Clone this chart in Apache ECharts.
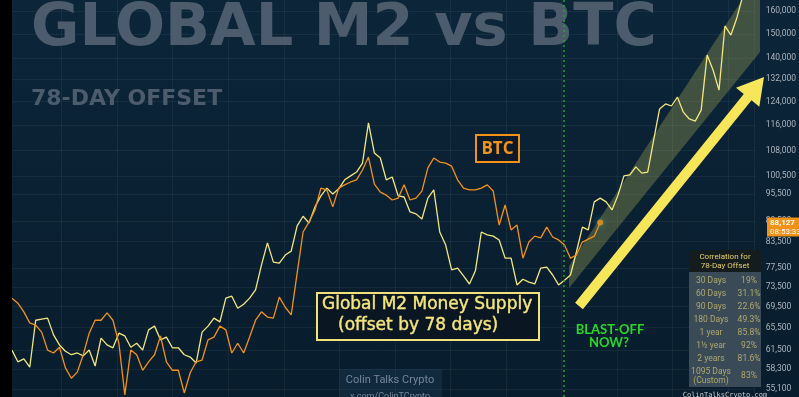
<!DOCTYPE html>
<html>
<head>
<meta charset="utf-8">
<title>Global M2 vs BTC</title>
<script src="https://cdn.jsdelivr.net/npm/echarts@6/dist/echarts.min.js"></script>
<style>
html,body{margin:0;padding:0;background:#0a2134;}
#chart{width:799px;height:397px;}
</style>
</head>
<body>
<div id="chart"></div>
<script>
// right axis price ticks (log scale)
var priceTicks = [160000,150000,140000,132000,124000,116000,108000,100500,95500,88500,83500,77500,73500,69500,65500,61500,58300,55100];

// Global M2 money supply, offset by 78 days (BTC-scaled), one value per step
var m2 = [61500,59500,60000,58600,66900,67100,67300,64200,62400,61300,
    60700,61000,60500,61500,58800,63600,62400,61900,64500,64000,
    62000,62700,61500,65100,65800,63300,63800,61900,61900,60700,
    60300,59300,64700,65800,67300,66600,71200,71600,69200,70000,
    71200,72900,78200,83200,78800,78600,80400,81300,87300,89700,
    88000,92100,95000,97100,95500,96900,99400,100500,101600,104200,
    116700,107200,105700,99400,100200,95000,94700,90800,90300,89000,
    94400,96600,85800,82700,77100,77500,75800,74100,76900,85800,
    85100,84800,83900,79700,79700,73900,75100,74500,74100,77500,
    77700,76000,73900,74900,76000,81100,87000,86300,93400,94400,
    93400,91300,95200,100500,100800,103100,101300,101600,111200,121400,
    123100,122400,125500,120300,118000,117300,121000,141300,135500,128000,
    153400,149500,156900,167000];

// BTC price
var btc = [71200,70200,68500,66400,66000,64700,61500,61000,62000,58500,
    56800,57800,60700,64500,66900,66900,68300,66900,62700,54200,
    61500,60700,58100,59500,60700,64000,59500,58100,58100,54500,
    57700,59500,59800,63300,63800,65800,65100,61000,62700,61000,
    63800,66900,68500,67500,67300,71400,69400,67900,76400,85800,
    88300,91300,97100,96600,92100,97100,98000,98800,99400,102200,
    106000,98200,96000,95200,93900,94400,98000,93900,94400,96300,
    102800,105700,104500,104200,103300,99400,97100,96600,96600,97100,
    98000,96300,87500,92600,86300,87500,79700,83400,84800,84400,
    87000,84600,83900,82700,79700,80400,83400,84100,84800,88127];

// correlation table
var corrPeriods = ['30 Days','60 Days','90 Days','180 Days','1 year','1½ year','2 years','1095 Days\n(Custom)'];
var corrValues = ['19%','31.1%','22.6%','49.3%','85.8%','92%','81.6%','83%'];

var nowIndex = 92.8;      // today (green dotted line)
var btcTime = '08:53:33';

function fmt(v){
    return String(Math.round(v)).replace(/\B(?=(\d{3})+(?!\d))/g, ',');
}

var chart = echarts.init(document.getElementById('chart'));
var gridColor = 'rgba(255,255,255,0.05)';
var yellow = '#f3e77e';
var orange = '#f39217';

var option = {
    animation: false,
    backgroundColor: {
        type: 'linear', x: 0, y: 0, x2: 0, y2: 1,
        colorStops: [{offset: 0, color: '#0c2539'}, {offset: 1, color: '#081d2d'}]
    },
    grid: {left: 6, right: 37, top: 0, bottom: 0},
    xAxis: {
        type: 'value', min: -1, max: 125, interval: 9.35,
        axisLine: {show: false}, axisTick: {show: false}, axisLabel: {show: false},
        splitLine: {lineStyle: {color: gridColor}}
    },
    yAxis: {
        type: 'log', position: 'right', min: 53880, max: 165040,
        axisLine: {show: false},
        axisTick: {show: false, customValues: priceTicks},
        axisLabel: {
            customValues: priceTicks, formatter: fmt,
            color: '#aab4be', fontSize: 8.5, fontFamily: '"Liberation Sans Narrow", "Roboto"', margin: 11
        },
        splitLine: {show: true, lineStyle: {color: gridColor}}
    },
    series: [
        {
            name: 'Global M2', type: 'line', showSymbol: false, z: 3,
            data: m2.map(function (v, i) { return [i, v]; }),
            lineStyle: {color: yellow, width: 1.3},
            markLine: {
                silent: true, symbol: 'none', label: {show: false},
                lineStyle: {color: '#22a52c', type: [2, 3], width: 1.5},
                data: [{xAxis: nowIndex}]
            }
        },
        {
            name: 'BTC', type: 'line', showSymbol: false, z: 4,
            data: btc.map(function (v, i) { return [i, v]; }),
            lineStyle: {color: orange, width: 1.3}
        },
        {
            type: 'scatter', z: 5, symbolSize: 6,
            data: [[btc.length - 1, btc[btc.length - 1]]],
            itemStyle: {color: orange, shadowBlur: 6, shadowColor: 'rgba(60,200,200,0.8)'}
        }
    ]
};
chart.setOption(option);

// annotations
var g = [];
g.push({type: 'rect', z: 20, shape: {x: 0, y: 0, width: 12, height: 397}, style: {fill: '#000'}});
g.push({type: 'text', z: 0, x: 31, y: 30, style: {text: 'GLOBAL M2 vs BTC', fill: '#4c5c6c',
    font: 'bold 59px "DejaVu Sans"', textVerticalAlign: 'middle'}});
g.push({type: 'text', z: 0, x: 31, y: 99, style: {text: '78-DAY OFFSET', fill: '#4c5c6c',
    font: 'bold 22px "DejaVu Sans"', textVerticalAlign: 'middle'}});

// channel
g.push({type: 'polygon', z: 1, shape: {points: [[569, 266], [742, 0], [760, 0], [760, 52], [569, 288]]},
    style: {fill: 'rgba(190,190,90,0.3)'}});

// arrow
var T = [579, 306], P = [764, 77];
var dx = P[0] - T[0], dy = P[1] - T[1], len = Math.sqrt(dx * dx + dy * dy);
var u = [dx / len, dy / len], n = [-u[1], u[0]];
var B = [P[0] - 26 * u[0], P[1] - 26 * u[1]];
function off(p, k){ return [p[0] + k * n[0], p[1] + k * n[1]]; }
g.push({type: 'polygon', z: 10, shape: {points: [off(T, 5), off(B, 5), off(B, 15), P, off(B, -15), off(B, -5), off(T, -5)]},
    style: {fill: '#f8e65a'}});

// BTC label
g.push({type: 'rect', z: 10, shape: {x: 476, y: 135, width: 43, height: 27}, style: {fill: 'rgba(8,24,36,0.6)', stroke: orange, lineWidth: 2}});
g.push({type: 'text', z: 11, x: 497.5, y: 149, style: {text: 'BTC', fill: orange, font: 'bold 17px "Open Sans"',
    textAlign: 'center', textVerticalAlign: 'middle'}});

// M2 label
g.push({type: 'rect', z: 10, shape: {x: 317, y: 293, width: 222, height: 47}, style: {fill: '#0a1722', stroke: '#efe27a', lineWidth: 2}});
g.push({type: 'text', z: 11, x: 322, y: 305, style: {text: 'Global M2 Money Supply', fill: '#f5e67c', font: '17px "DejaVu Sans"',
    textVerticalAlign: 'middle', stroke: '#f5e67c', lineWidth: 0.4}});
g.push({type: 'text', z: 11, x: 338, y: 326, style: {text: '(offset by 78 days)', fill: '#f5e67c', font: '17px "DejaVu Sans"',
    textVerticalAlign: 'middle', stroke: '#f5e67c', lineWidth: 0.4}});

// blast-off
g.push({type: 'text', z: 11, x: 610, y: 330, style: {text: 'BLAST-OFF', fill: '#2bd62a', font: 'bold 13px Lato',
    textAlign: 'center', textVerticalAlign: 'middle'}});
g.push({type: 'text', z: 11, x: 609, y: 343, style: {text: 'NOW?', fill: '#2bd62a', font: 'bold 13px Lato',
    textAlign: 'center', textVerticalAlign: 'middle'}});

// watermark
g.push({type: 'rect', z: 9, shape: {x: 339, y: 369, width: 103, height: 30}, style: {fill: 'rgba(40,80,110,0.25)'}});
g.push({type: 'text', z: 10, x: 390, y: 380, style: {text: 'Colin Talks Crypto', fill: '#75869a', font: '11px Roboto',
    textAlign: 'center', textVerticalAlign: 'middle'}});
g.push({type: 'text', z: 10, x: 390, y: 397, style: {text: 'x.com/ColinTCrypto', fill: '#75869a', font: '9px Roboto',
    textAlign: 'center', textVerticalAlign: 'middle'}});

// correlation table
g.push({type: 'rect', z: 10, shape: {x: 689, y: 250, width: 72, height: 22}, style: {fill: '#151c1e'}});
g.push({type: 'text', z: 11, x: 725, y: 257, style: {text: 'Correlation for', fill: '#e6d36b', font: '8px Roboto',
    textAlign: 'center', textVerticalAlign: 'middle'}});
g.push({type: 'text', z: 11, x: 725, y: 266, style: {text: '78-Day Offset', fill: '#e6d36b', font: '8px Roboto',
    textAlign: 'center', textVerticalAlign: 'middle'}});
g.push({type: 'rect', z: 10, shape: {x: 689, y: 272, width: 72, height: 115}, style: {fill: '#3a4b57'}});
var rowY = [281, 294, 307, 320, 333, 346, 359, 376];
corrPeriods.forEach(function (p, i) {
    g.push({type: 'text', z: 11, x: 711, y: rowY[i], style: {text: p, fill: '#aea86c', font: '8.5px Roboto',
        textAlign: 'center', textVerticalAlign: 'middle', lineHeight: 9}});
    g.push({type: 'text', z: 11, x: 749, y: rowY[i], style: {text: corrValues[i], fill: '#aea86c', font: '8.5px Roboto',
        textAlign: 'center', textVerticalAlign: 'middle'}});
});
g.push({type: 'text', z: 11, x: 725, y: 395, style: {text: 'ColinTalksCrypto.com', fill: '#c8ccd0', font: '7px "DejaVu Sans Mono"',
    textAlign: 'center', textVerticalAlign: 'middle'}});

// last price tag
var last = btc[btc.length - 1];
var tagY = chart.convertToPixel({seriesIndex: 1}, [btc.length - 1, last])[1];
g.push({type: 'rect', z: 12, shape: {x: 767, y: tagY - 5, width: 32, height: 19}, style: {fill: orange}});
g.push({type: 'text', z: 13, x: 770, y: tagY, style: {text: fmt(last), fill: '#fff', font: 'bold 8px Roboto',
    textVerticalAlign: 'middle'}});
g.push({type: 'text', z: 13, x: 770, y: tagY + 9, style: {text: btcTime, fill: '#fff', font: '8px Roboto',
    textVerticalAlign: 'middle'}});

chart.setOption({graphic: g});
</script>
</body>
</html>
